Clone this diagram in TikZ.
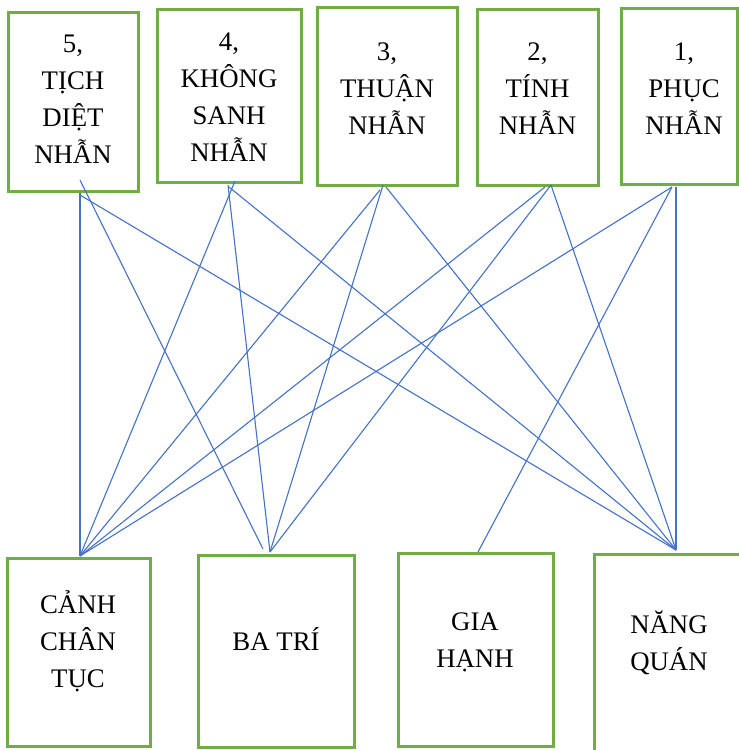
\documentclass[tikz,border=0pt]{standalone}
\usepackage{fontspec}
\setmainfont{Liberation Serif}
\definecolor{boxgreen}{HTML}{70AD47}
\definecolor{lineblue}{HTML}{4472C4}
\newcommand\mylines[1]{\begin{tabular}[t]{@{}c@{}}#1\end{tabular}}
\tikzset{
  box/.style={draw=boxgreen, line width=3pt, rectangle, inner sep=0pt},
  lbl/.style={anchor=base, inner sep=0pt, font=\fontsize{26.8pt}{37pt}\selectfont},
  conn/.style={draw=lineblue, line width=1.1pt}
}
\begin{document}
\begin{tikzpicture}[x=1pt,y=1pt]
\clip (0,0) rectangle (739,-750);
\fill[white] (0,0) rectangle (739,-750);
% top boxes
\node[box, minimum width=130pt, minimum height=179pt] (n5) at (73,-101.5) {};
\node[box, minimum width=144pt, minimum height=173pt] (n4) at (229,-95.5) {};
\node[box, minimum width=140pt, minimum height=178pt] (n3) at (387,-96) {};
\node[box, minimum width=121pt, minimum height=176pt] (n2) at (537.5,-97) {};
\node[box, minimum width=116pt, minimum height=176pt] (n1) at (679,-96) {};
% bottom boxes
\node[box, minimum width=143pt, minimum height=188pt] (b1) at (78.5,-652) {};
\node[box, minimum width=156pt, minimum height=192pt] (b2) at (276,-651) {};
\node[box, minimum width=155pt, minimum height=193pt] (b3) at (475.5,-649.5) {};
\node[box, minimum width=152pt, minimum height=206pt] (b4) at (670,-657) {};
% labels
\node[lbl] (t5) at (73,-52) {\mylines{5,\\TỊCH\\DIỆT\\NHẪN}};
\node[lbl] (t4) at (229,-50) {\mylines{4,\\KHÔNG\\SANH\\NHẪN}};
\node[lbl] (t3) at (387,-60) {\mylines{3,\\THUẬN\\NHẪN}};
\node[lbl] (t2) at (537.5,-60) {\mylines{2,\\TÍNH\\NHẪN}};
\node[lbl] (t1) at (684,-60) {\mylines{1,\\PHỤC\\NHẪN}};
\node[lbl] (u1) at (78,-613) {\mylines{CẢNH\\CHÂN\\TỤC}};
\node[lbl] (u2) at (276,-650) {BA TRÍ};
\node[lbl] (u3) at (475,-630) {\mylines{GIA\\HẠNH}};
\node[lbl] (u4) at (669,-633) {\mylines{NĂNG\\QUÁN}};
% connection points
\coordinate (s5a) at (80,-180);
\coordinate (s5b) at (80,-193);
\coordinate (s5c) at (80,-195);
\coordinate (s4a) at (235,-181);
\coordinate (s4b) at (228,-185);
\coordinate (s4c) at (229,-187);
\coordinate (s3a) at (380,-190);
\coordinate (s3b) at (383,-185);
\coordinate (s3c) at (386,-187);
\coordinate (s2a) at (545,-187);
\coordinate (s2b) at (551,-185);
\coordinate (s1a) at (672,-187);
\coordinate (s1b) at (676,-187);
\coordinate (e1) at (80,-556);
\coordinate (e2) at (270,-552);
\coordinate (e2a) at (263,-549);
\coordinate (e3) at (478,-552);
\coordinate (e4) at (676,-550);
% connectors
\draw[conn] (s5a) -- (e2a);
\draw[conn] (s5b) -- (e1);
\draw[conn] (s5c) -- (e4);
\draw[conn] (s4a) -- (e1);
\draw[conn] (s4b) -- (e2);
\draw[conn] (s4c) -- (e4);
\draw[conn] (s3a) -- (e1);
\draw[conn] (s3b) -- (e2);
\draw[conn] (s3c) -- (e4);
\draw[conn] (s2a) -- (e1);
\draw[conn] (s2b) -- (e2);
\draw[conn] (s2b) -- (e4);
\draw[conn] (s1a) -- (e1);
\draw[conn] (s1a) -- (e3);
\draw[conn] (s1b) -- (e4);
\end{tikzpicture}
\end{document}
